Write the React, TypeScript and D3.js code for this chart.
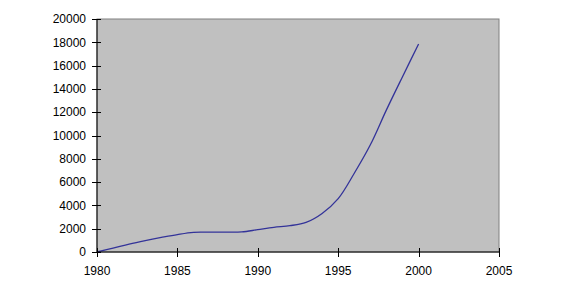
import React from "react";
import * as d3 from "d3";

const years = [1980, 1981, 1982, 1983, 1984, 1985, 1986, 1987, 1988, 1989, 1990, 1991, 1992, 1993, 1994, 1995, 1996, 1997, 1998, 1999, 2000];
const values = [0, 330, 680, 980, 1250, 1500, 1690, 1700, 1700, 1720, 1920, 2120, 2260, 2540, 3310, 4580, 6760, 9200, 12200, 15050, 17850];
const xTicks = [1980, 1985, 1990, 1995, 2000, 2005];
const yTicks = [0, 2000, 4000, 6000, 8000, 10000, 12000, 14000, 16000, 18000, 20000];

export default function App() {
  const W = 567, H = 288;
  const left = 97, right = 499, top = 19, bottom = 252;
  const x = d3.scaleLinear().domain([1980, 2005]).range([left, right]);
  const y = d3.scaleLinear().domain([0, 20000]).range([bottom, top]);
  const line = d3
    .line<number>()
    .x((_, i) => x(years[i]))
    .y((d) => y(d))
    .curve(d3.curveCatmullRom.alpha(0.5));
  const font = "'Liberation Sans', Arial, sans-serif";
  return (
    <svg width={W} height={H} style={{ position: "absolute", left: 0, top: 0 }} fontFamily={font}>
      <rect x={0} y={0} width={W} height={H} fill="#ffffff" />
      <rect x={left} y={top} width={right - left} height={bottom - top} fill="#c0c0c0" stroke="#808080" strokeWidth={1} />
      <path d={line(values) ?? ""} fill="none" stroke="#333399" strokeWidth={1.3} />
      <line x1={left} x2={left} y1={top} y2={bottom} stroke="#000" strokeWidth={1} />
      <line x1={left} x2={right} y1={bottom} y2={bottom} stroke="#000" strokeWidth={1} />
      {yTicks.map((t) => (
        <g key={"y" + t}>
          <line x1={left - 5} x2={left + 4} y1={Math.round(y(t)) + 0.5} y2={Math.round(y(t)) + 0.5} stroke="#000" />
          <text x={86} y={y(t)} dy="0.35em" textAnchor="end" fontSize={12} fill="#000">
            {t}
          </text>
        </g>
      ))}
      {xTicks.map((t) => (
        <g key={"x" + t}>
          <line x1={Math.round(x(t)) + 0.5} x2={Math.round(x(t)) + 0.5} y1={bottom - 4} y2={bottom + 5} stroke="#000" />
          <text x={x(t)} y={275} textAnchor="middle" fontSize={12} fill="#000">
            {t}
          </text>
        </g>
      ))}
    </svg>
  );
}
